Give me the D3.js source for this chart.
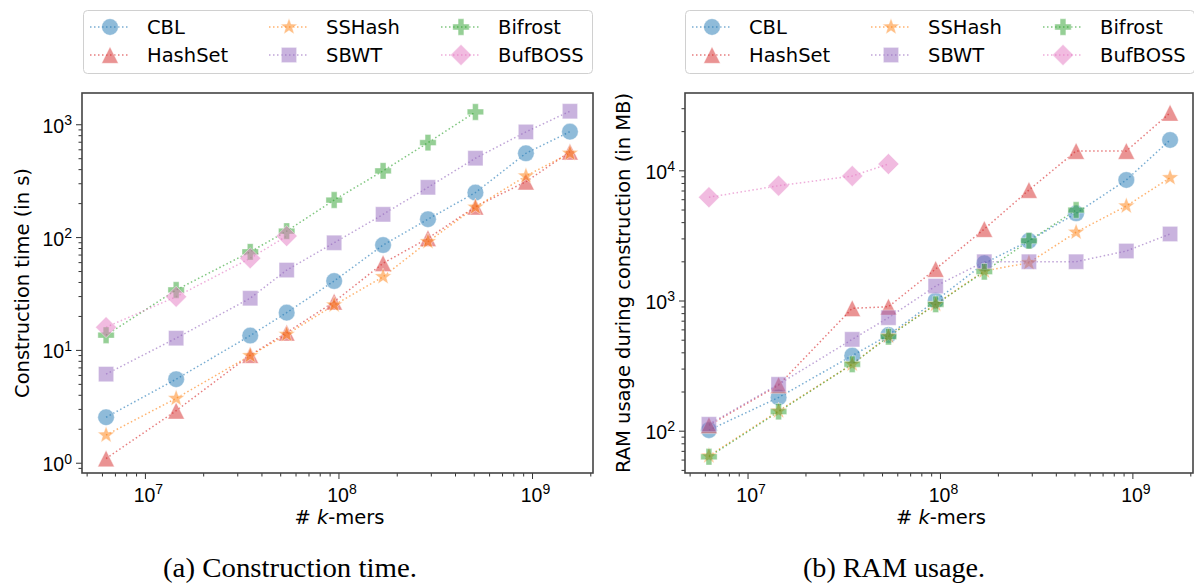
<!DOCTYPE html>
<html>
<head>
<meta charset="utf-8">
<script src="https://cdn.jsdelivr.net/npm/d3@7"></script>
<style>
  html, body { margin: 0; padding: 0; background: #fff; }
  svg { display: block; font-family: "DejaVu Sans", sans-serif; }
</style>
</head>
<body>
<svg id="chart" width="1194" height="583"></svg>
<script>
// ---------------- DATA ----------------
const kmers = [6.3e6, 1.45e7, 3.5e7, 5.4e7, 9.5e7, 1.7e8, 2.9e8, 5.1e8, 9.3e8, 1.57e9];
const seriesNames = ["CBL", "HashSet", "SSHash", "SBWT", "Bifrost", "BufBOSS"];

// Construction time (s)
const timeCBL     = [2.53, 5.5, 13.4, 21.4, 40.8, 85, 144, 248, 553, 860];
const timeHashSet = [1.09, 2.89, 9.0, 14.2, 26.7, 58.6, 97.6, 186, 310, 571];
const timeSSHash  = [1.76, 3.72, 8.9, 13.7, 25, 44.5, 91, 184, 348, 553];
const timeSBWT    = [6.1, 12.7, 28.7, 51, 89, 159, 276, 500, 855, 1304];
const timeBifrost = [13.5, 34, 74, 113, 213, 386, 687, 1285];
const timeBufBOSS = [15.9, 29.6, 64.9, 102];

// RAM usage during construction (MB)
const ramCBL     = [101, 180, 377, 543, 996, 1932, 2875, 4677, 8430, 17100];
const ramHashSet = [110, 224, 871, 896, 1746, 3540, 7060, 14070, 14070, 27660];
const ramSSHash  = [64, 142, 324, 533, 935, 1686, 1950, 3345, 5320, 8770];
const ramSBWT    = [112, 227, 503, 738, 1291, 1986, 1986, 1986, 2400, 3244];
const ramBifrost = [63, 140, 324, 527, 935, 1665, 2875, 4955];
const ramBufBOSS = [6210, 7620, 9040, 11170];

const xTickExps = [7, 8, 9];
const timeTickExps = [0, 1, 2, 3];
const ramTickExps = [2, 3, 4];

const captions = ["(a) Construction time.", "(b) RAM usage."];
const yLabels = ["Construction time (in s)", "RAM usage during construction (in MB)"];

// ---------------- STYLE ----------------
const colors = {
  CBL: "#1f77b4", HashSet: "#d62728", SSHash: "#ff7f0e",
  SBWT: "#9467bd", Bifrost: "#2ca02c", BufBOSS: "#e377c2"
};
const markerShape = {
  CBL: "circle", HashSet: "triangle", SSHash: "star",
  SBWT: "square", Bifrost: "plus", BufBOSS: "diamond"
};

function markerPath(shape) {
  const p = d3.path();
  if (shape === "circle") {
    p.arc(0, 0, 8.3, 0, 2 * Math.PI);
  } else if (shape === "square") {
    p.rect(-7.6, -7.6, 15.2, 15.2);
  } else if (shape === "triangle") {
    const h = 8.3;
    p.moveTo(0, -h); p.lineTo(h, h); p.lineTo(-h, h); p.closePath();
  } else if (shape === "diamond") {
    const h = 10.5;
    p.moveTo(0, -h); p.lineTo(h, 0); p.lineTo(0, h); p.lineTo(-h, 0); p.closePath();
  } else if (shape === "star") {
    const R = 8.8, r = 3.6;
    for (let i = 0; i < 10; i++) {
      const a = -Math.PI / 2 + i * Math.PI / 5;
      const rr = i % 2 === 0 ? R : r;
      const x = rr * Math.cos(a), y = rr * Math.sin(a);
      if (i === 0) p.moveTo(x, y); else p.lineTo(x, y);
    }
    p.closePath();
  } else if (shape === "plus") {
    const a = 8.2, b = 2.9;
    p.moveTo(-b, -a); p.lineTo(b, -a); p.lineTo(b, -b); p.lineTo(a, -b);
    p.lineTo(a, b); p.lineTo(b, b); p.lineTo(b, a); p.lineTo(-b, a);
    p.lineTo(-b, b); p.lineTo(-a, b); p.lineTo(-a, -b); p.lineTo(-b, -b);
    p.closePath();
  }
  return p.toString();
}

const svg = d3.select("#chart");
const FONT = 19.5;

const panels = [
  {
    left: 82, right: 593, top: 93, bottom: 473,
    yDomain: [Math.pow(10, -0.091), Math.pow(10, 3.277)],
    yTicks: timeTickExps,
    data: { CBL: timeCBL, HashSet: timeHashSet, SSHash: timeSSHash, SBWT: timeSBWT, Bifrost: timeBifrost, BufBOSS: timeBufBOSS },
    yLabel: yLabels[0], yLabelX: 22, caption: captions[0], captionX: 290, captionW: 254, legendDx: 0
  },
  {
    left: 685, right: 1193, top: 93, bottom: 473,
    yDomain: [Math.pow(10, 1.675), Math.pow(10, 4.594)],
    yTicks: ramTickExps,
    data: { CBL: ramCBL, HashSet: ramHashSet, SSHash: ramSSHash, SBWT: ramSBWT, Bifrost: ramBifrost, BufBOSS: ramBufBOSS },
    yLabel: yLabels[1], yLabelX: 623, caption: captions[1], captionX: 894, captionW: 182, legendDx: 602
  }
];

const xDomain = [Math.pow(10, 6.675), Math.pow(10, 9.315)];

function powLabel(sel, exp) {
  sel.text(null);
  sel.append("tspan").text("10");
  sel.append("tspan").attr("dy", "-0.55em").attr("font-size", "0.72em").text(exp);
}

panels.forEach(P => {
  const g = svg.append("g");
  const x = d3.scaleLog().domain(xDomain).range([P.left, P.right]);
  const y = d3.scaleLog().domain(P.yDomain).range([P.bottom, P.top]);

  const clipId = "clip" + P.left;
  svg.append("clipPath").attr("id", clipId).append("rect")
    .attr("x", P.left).attr("y", P.top).attr("width", P.right - P.left).attr("height", P.bottom - P.top);

  const plot = g.append("g").attr("clip-path", `url(#${clipId})`);
  seriesNames.forEach(name => {
    const vals = P.data[name];
    const pts = vals.map((v, i) => [kmers[i], v]);
    const line = d3.line().x(d => x(d[0])).y(d => y(d[1]));
    plot.append("path").datum(pts)
      .attr("d", line)
      .attr("fill", "none")
      .attr("stroke", colors[name])
      .attr("stroke-opacity", 0.6)
      .attr("stroke-width", 1.5)
      .attr("stroke-dasharray", "1.5,2.5");
  });
  seriesNames.forEach(name => {
    const vals = P.data[name];
    const pts = vals.map((v, i) => [kmers[i], v]);
    plot.selectAll(null).data(pts).enter().append("path")
      .attr("d", markerPath(markerShape[name]))
      .attr("transform", d => `translate(${x(d[0])},${y(d[1])})`)
      .attr("fill", colors[name])
      .attr("fill-opacity", 0.5)
      .attr("stroke", "#ffffff")
      .attr("stroke-opacity", 0.4)
      .attr("stroke-width", 1);
  });

  // X axis
  const xAxisG = g.append("g").attr("transform", `translate(0,${P.bottom})`);
  const xMinor = [];
  for (let e = 6; e <= 9; e++) for (let m = 2; m <= 9; m++) {
    const v = m * Math.pow(10, e);
    if (v >= xDomain[0] && v <= xDomain[1]) xMinor.push(v);
  }
  xAxisG.append("g").call(d3.axisBottom(x).tickValues(xMinor).tickSize(3.5).tickFormat(""));
  const xMajor = xTickExps.map(e => Math.pow(10, e));
  const xmg = xAxisG.append("g").call(d3.axisBottom(x).tickValues(xMajor).tickSize(6).tickFormat(""));
  xmg.selectAll(".tick text").remove();
  xmg.selectAll(".tick").each(function(d, i) {
    const t = d3.select(this).append("text")
      .attr("fill", "#000").attr("font-size", FONT)
      .attr("text-anchor", "middle").attr("y", 29).attr("x", 3);
    powLabel(t, xTickExps[i]);
  });
  xAxisG.selectAll(".domain").remove();
  xAxisG.selectAll(".tick line").attr("stroke", "#333").attr("stroke-width", 1);

  // Y axis
  const yAxisG = g.append("g").attr("transform", `translate(${P.left},0)`);
  const yMinor = [];
  for (let e = -1; e <= 5; e++) for (let m = 2; m <= 9; m++) {
    const v = m * Math.pow(10, e);
    if (v >= P.yDomain[0] && v <= P.yDomain[1]) yMinor.push(v);
  }
  yAxisG.append("g").call(d3.axisLeft(y).tickValues(yMinor).tickSize(3.5).tickFormat(""));
  const yMajor = P.yTicks.map(e => Math.pow(10, e));
  const ymg = yAxisG.append("g").call(d3.axisLeft(y).tickValues(yMajor).tickSize(6).tickFormat(""));
  ymg.selectAll(".tick text").remove();
  ymg.selectAll(".tick").each(function(d, i) {
    const t = d3.select(this).append("text")
      .attr("fill", "#000").attr("font-size", FONT)
      .attr("text-anchor", "end").attr("x", -10).attr("y", 8);
    powLabel(t, P.yTicks[i]);
  });
  yAxisG.selectAll(".domain").remove();
  yAxisG.selectAll(".tick line").attr("stroke", "#333").attr("stroke-width", 1);

  // Frame
  g.append("rect")
    .attr("x", P.left).attr("y", P.top)
    .attr("width", P.right - P.left).attr("height", P.bottom - P.top)
    .attr("fill", "none").attr("stroke", "#444").attr("stroke-width", 1.6);

  // Axis labels
  const xl = g.append("text")
    .attr("x", (P.left + P.right) / 2 + 2).attr("y", 524)
    .attr("text-anchor", "middle").attr("font-size", FONT).attr("fill", "#000");
  xl.append("tspan").text("# ");
  xl.append("tspan").attr("font-style", "italic").text("k");
  xl.append("tspan").text("-mers");

  g.append("text")
    .attr("transform", `translate(${P.yLabelX},${(P.top + P.bottom) / 2}) rotate(-90)`)
    .attr("text-anchor", "middle").attr("dominant-baseline", "central")
    .attr("font-size", FONT).attr("fill", "#000")
    .text(P.yLabel);

  // Caption
  g.append("text")
    .attr("x", P.captionX - P.captionW / 2).attr("y", 577)
    .attr("text-anchor", "start")
    .attr("font-family", "'Liberation Serif', 'DejaVu Serif', serif")
    .attr("font-size", 27).attr("fill", "#000")
    .attr("textLength", P.captionW).attr("lengthAdjust", "spacingAndGlyphs")
    .text(P.caption);

  // Legend
  const lg = g.append("g").attr("transform", `translate(${P.legendDx},0)`);
  lg.append("rect").attr("x", 83.5).attr("y", 10.5).attr("width", 509).attr("height", 63)
    .attr("rx", 4).attr("fill", "#fff").attr("fill-opacity", 0.8)
    .attr("stroke", "#d0d0d0").attr("stroke-width", 1);
  const colX = [110, 289, 461];
  const rowY = [27, 55];
  seriesNames.forEach((name, i) => {
    const cx = colX[Math.floor(i / 2)], cy = rowY[i % 2];
    lg.append("line").attr("x1", cx - 20).attr("x2", cx + 20).attr("y1", cy).attr("y2", cy)
      .attr("stroke", colors[name]).attr("stroke-opacity", 0.6)
      .attr("stroke-width", 1.5).attr("stroke-dasharray", "1.5,2.5");
    lg.append("path").attr("d", markerPath(markerShape[name]))
      .attr("transform", `translate(${cx},${cy})`)
      .attr("fill", colors[name]).attr("fill-opacity", 0.5)
      .attr("stroke", "#fff").attr("stroke-opacity", 0.4).attr("stroke-width", 1);
    lg.append("text").attr("x", cx + 37).attr("y", cy).attr("dominant-baseline", "central")
      .attr("font-size", FONT).attr("fill", "#000").text(name);
  });
});
</script>
</body>
</html>
